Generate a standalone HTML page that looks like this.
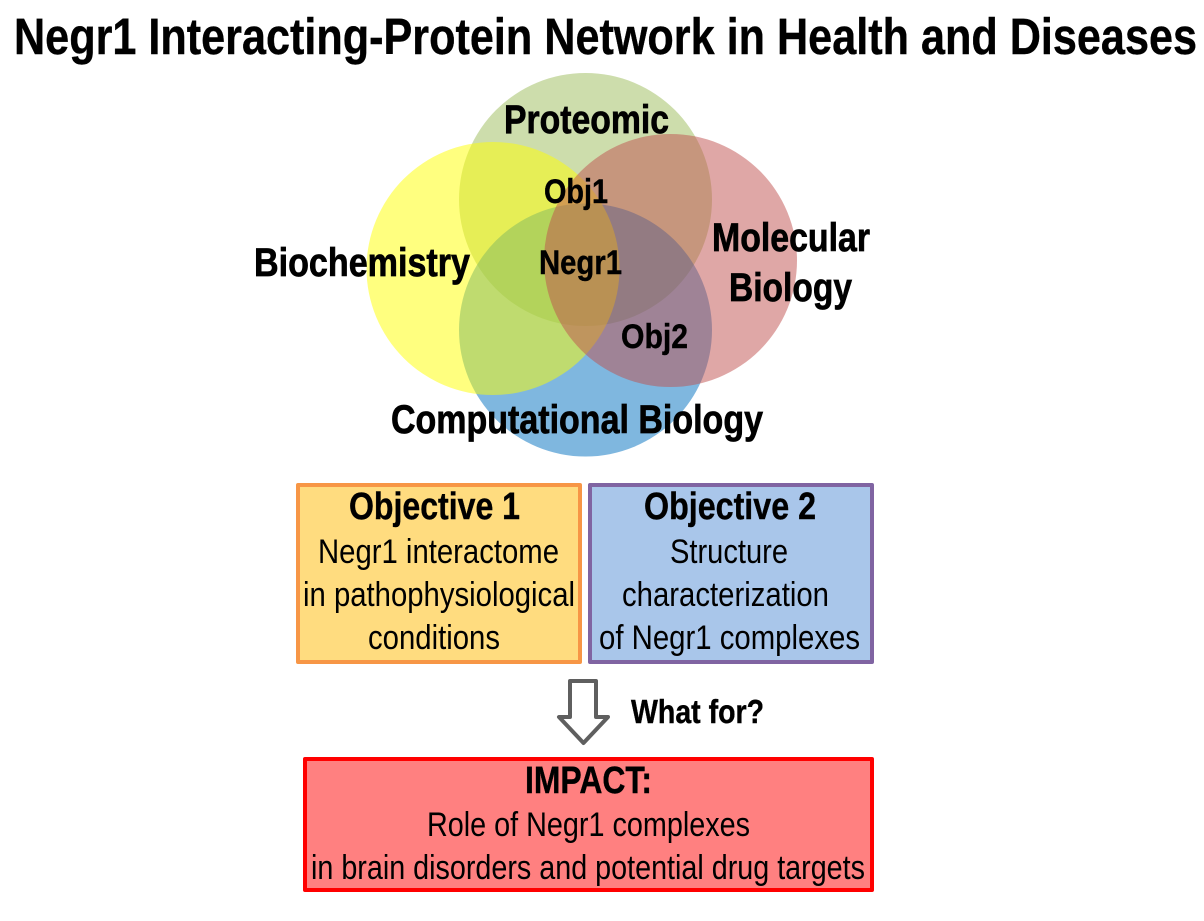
<!DOCTYPE html>
<html><head><meta charset="utf-8"><style>
html,body{margin:0;padding:0;background:#fff;width:1204px;height:921px;overflow:hidden}
svg{display:block}
text{font-family:"Liberation Sans",Arial,sans-serif;fill:#000}
.b{font-weight:bold;stroke:#000;stroke-width:.4px}
.s{stroke:#000;stroke-width:.7px}
</style></head><body>
<svg width="1204" height="921" viewBox="0 0 1204 921" xmlns="http://www.w3.org/2000/svg">
<rect width="1204" height="921" fill="#fff"/>
<text class="b" x="14" y="54" font-size="51" textLength="1183" lengthAdjust="spacingAndGlyphs">Negr1 Interacting-Protein Network in Health and Diseases</text>

<circle cx="585.5" cy="199.5" r="126.5" fill="#9BBB59" fill-opacity=".5"/>
<circle cx="585.5" cy="330" r="126.5" fill="#0070C0" fill-opacity=".5"/>
<circle cx="493" cy="268.5" r="126.5" fill="#FFFF00" fill-opacity=".5"/>
<circle cx="670.5" cy="260.5" r="126.5" fill="#C0504D" fill-opacity=".5"/>

<text class="b s" x="504" y="133" font-size="40" textLength="165" lengthAdjust="spacingAndGlyphs">Proteomic</text>
<text class="b" x="544" y="203" font-size="34" textLength="64" lengthAdjust="spacingAndGlyphs">Obj1</text>
<text class="b" x="539" y="274" font-size="34" textLength="83" lengthAdjust="spacingAndGlyphs">Negr1</text>
<text class="b" x="621" y="348" font-size="34" textLength="67" lengthAdjust="spacingAndGlyphs">Obj2</text>
<text class="b s" x="254" y="276" font-size="40" textLength="216" lengthAdjust="spacingAndGlyphs">Biochemistry</text>
<text class="b s" x="712" y="251" font-size="40" textLength="158" lengthAdjust="spacingAndGlyphs">Molecular</text>
<text class="b s" x="729" y="301" font-size="40" textLength="123" lengthAdjust="spacingAndGlyphs">Biology</text>
<text class="b s" x="391" y="433" font-size="40" textLength="372" lengthAdjust="spacingAndGlyphs">Computational Biology</text>

<rect x="298" y="485" width="282" height="177" fill="#FFDC7F" stroke="#F79646" stroke-width="4" stroke-linejoin="round"/>
<rect x="590" y="485" width="282" height="177" fill="#A9C6EA" stroke="#8064A2" stroke-width="4" stroke-linejoin="round"/>
<rect x="305" y="759" width="567" height="131" fill="#FF8080" stroke="#FF0000" stroke-width="4" stroke-linejoin="round"/>

<text class="b" x="349" y="519" font-size="38" textLength="171" lengthAdjust="spacingAndGlyphs">Objective 1</text>
<text x="318" y="563" font-size="34" textLength="241" lengthAdjust="spacingAndGlyphs">Negr1 interactome</text>
<text x="303" y="606" font-size="34" textLength="272" lengthAdjust="spacingAndGlyphs">in pathophysiological</text>
<text x="368" y="649" font-size="34" textLength="132" lengthAdjust="spacingAndGlyphs">conditions</text>

<text class="b" x="644" y="519" font-size="38" textLength="172" lengthAdjust="spacingAndGlyphs">Objective 2</text>
<text x="670" y="563" font-size="34" textLength="118" lengthAdjust="spacingAndGlyphs">Structure</text>
<text x="622" y="606" font-size="34" textLength="207" lengthAdjust="spacingAndGlyphs">characterization</text>
<text x="599" y="649" font-size="34" textLength="261" lengthAdjust="spacingAndGlyphs">of Negr1 complexes</text>

<path d="M570 681H596V717H608L583.5 743L559 717H570Z" fill="#fff" stroke="#5F5F5F" stroke-width="4" stroke-linejoin="round"/>
<text class="b" x="631" y="723" font-size="33" textLength="133" lengthAdjust="spacingAndGlyphs">What for?</text>

<text class="b" x="525" y="793" font-size="38" textLength="127" lengthAdjust="spacingAndGlyphs">IMPACT:</text>
<text x="427" y="836" font-size="34" textLength="323" lengthAdjust="spacingAndGlyphs">Role of Negr1 complexes</text>
<text x="311" y="879" font-size="34" textLength="554" lengthAdjust="spacingAndGlyphs">in brain disorders and potential drug targets</text>
</svg>
</body></html>
